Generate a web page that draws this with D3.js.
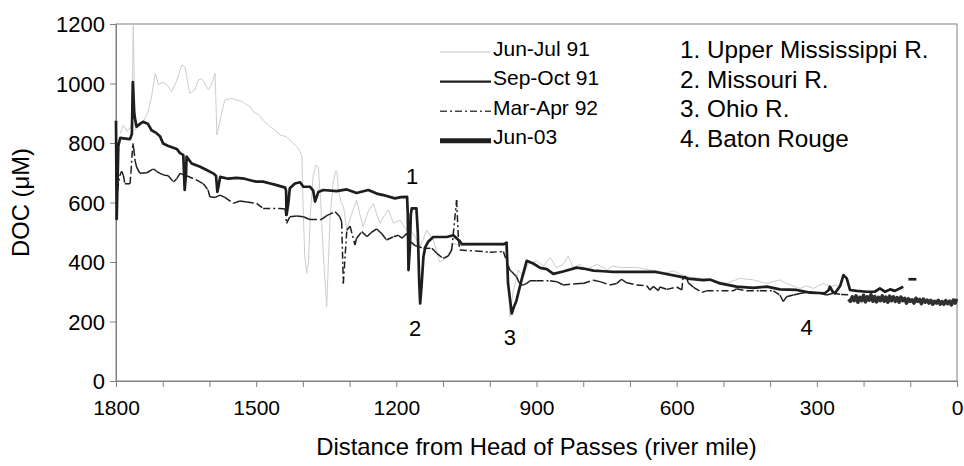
<!DOCTYPE html>
<html><head><meta charset="utf-8">
<script src="https://cdn.jsdelivr.net/npm/d3@7"></script>
<style>
html,body{margin:0;padding:0;background:#fff;}
svg text{font-family:"Liberation Sans",Arial,sans-serif;fill:#000;}
</style></head>
<body><svg id="chart" width="964" height="466"></svg>
<script>
// ---- data: [river mile, DOC µM] ----
const seriesNames = ["Jun-Jul 91", "Sep-Oct 91", "Mar-Apr 92", "Jun-03"];
const siteNotes = ["1. Upper Mississippi R.", "2. Missouri R.", "3. Ohio R.", "4. Baton Rouge"];
const siteMarks = [[1166, 1], [1160, 2], [957, 3], [322, 4]]; // [mile, number]
const siteMarkValues = [662, 150, 120, 155];
const xTicks = [1800, 1500, 1200, 900, 600, 300, 0];
const yTicks = [0, 200, 400, 600, 800, 1000, 1200];

const junJul91 = [
 [1791,832],[1784,860],[1777,840],[1770,850],[1766,870],[1763,1195],[1759,843],[1752,855],[1742,870],
 [1731,905],[1724,955],[1716,1034],[1709,995],[1699,1005],[1688,990],[1681,972],[1670,1010],[1659,1062],
 [1652,1055],[1645,990],[1642,967],[1631,978],[1624,1012],[1617,1017],[1610,1000],[1602,978],[1595,1000],
 [1588,1034],[1584,827],[1574,900],[1567,945],[1552,950],[1542,945],[1531,940],[1520,928],[1513,922],
 [1506,905],[1495,895],[1485,877],[1470,855],[1460,843],[1449,827],[1435,821],[1428,810],[1413,788],
 [1406,771],[1402,754],[1399,560],[1396,420],[1392,362],[1388,400],[1384,560],[1378,690],[1372,725],
 [1367,720],[1362,600],[1356,420],[1349,250],[1345,420],[1342,541],[1336,660],[1330,705],[1327,703],
 [1324,642],[1318,600],[1313,586],[1306,507],[1296,560],[1285,608],[1278,560],[1271,519],[1260,570],
 [1249,597],[1242,560],[1235,530],[1226,555],[1217,575],[1206,530],[1192,541],[1178,507],[1164,496],
 [1149,451],[1135,507],[1121,474],[1107,400],[1092,414],[1078,463],[1064,455],[1000,458],[967,455],
 [962,380],[957,216],[950,300],[939,373],[928,350],[918,393],[900,404],[885,387],[871,415],[857,381],
 [843,392],[832,420],[821,381],[807,392],[793,375],[771,392],[757,381],[750,373],[736,387],[721,381],
 [686,382],[664,375],[643,370],[621,364],[607,370],[579,351],[550,345],[522,340],[493,328],[465,345],
 [436,340],[407,328],[379,340],[365,328],[336,311],[322,320],[308,311],[286,328],[272,317],[254,323]
];

const sepOct91 = [
 [1800,875],[1798.5,545],[1795,790],[1791,817],[1780,815],[1770,813],[1766,830],[1764,1005],[1761,900],
 [1759,880],[1756,855],[1748,865],[1742,871],[1732,865],[1724,843],[1715,835],[1706,823],[1699,798],
 [1688,790],[1670,780],[1663,766],[1656,760],[1653,642],[1650,700],[1649,754],[1638,731],[1620,720],
 [1606,709],[1592,698],[1586,690],[1583,636],[1580,660],[1577,686],[1560,680],[1542,683],[1525,680],
 [1513,675],[1500,670],[1485,670],[1470,664],[1460,660],[1449,655],[1438,650],[1436,640],[1435,558],
 [1431,600],[1428,648],[1417,664],[1406,668],[1399,653],[1385,653],[1378,640],[1374,603],[1367,635],
 [1356,642],[1328,638],[1306,644],[1285,632],[1260,642],[1242,630],[1228,625],[1203,614],[1190,618],
 [1177,619],[1175.5,560],[1174,373],[1171,450],[1169,560],[1167,580],[1157,580],[1154,500],[1151,330],
 [1149,261],[1146,320],[1142,418],[1138,450],[1132,468],[1121,484],[1092,484],[1078,490],[1064,470],
 [1060,460],[971,460],[964,465],[961,330],[953,227],[948,250],[943,270],[932,340],[921,404],[907,395],
 [892,380],[878,376],[864,360],[843,368],[814,381],[800,378],[778,371],[757,369],[736,367],[646,367],
 [636,364],[593,351],[571,343],[543,339],[529,341],[507,328],[472,317],[436,313],[407,317],[379,308],
 [343,306],[315,297],[283,295],[275,305],[272,317],[266,300],[261,295],[250,320],[243,356],[236,345],
 [229,306],[215,303],[193,300],[176,300],[165,311],[154,300],[143,308],[133,303],[115,317]
];
const sepOct91Dash = [[104,342],[87,342]];

const marApr92 = [
 [1799,540],[1797,640],[1792,690],[1788,705],[1784,690],[1781,663],[1770,663],[1768,700],[1764,799],
 [1762,780],[1759,740],[1756,720],[1749,698],[1734,700],[1720,713],[1713,705],[1706,698],[1697,692],
 [1688,690],[1677,669],[1670,680],[1663,698],[1649,690],[1627,675],[1613,663],[1603,642],[1599,619],
 [1588,617],[1577,625],[1567,617],[1549,597],[1535,605],[1520,602],[1499,597],[1485,580],[1449,580],
 [1438,578],[1435,530],[1428,552],[1413,555],[1399,552],[1385,543],[1360,543],[1349,556],[1331,569],
 [1321,552],[1317,535],[1313.5,328],[1306,507],[1299,520],[1288.5,457],[1285,480],[1274,502],[1263,485],
 [1253,500],[1242,511],[1231,495],[1221,474],[1206,485],[1196,490],[1188,480],[1178,496],[1171,470],
 [1160,455],[1142,446],[1124,446],[1114,430],[1100,412],[1089,420],[1081.5,440],[1071,608],[1067,474],
 [1064,440],[1030,437],[1000,433],[971,435],[957,373],[953,367],[942.5,350],[935,323],[928,323],[921,328],
 [914,337],[900,337],[871,337],[857,334],[843,323],[821,326],[807,328],[800,328],[778,339],[764,334],
 [743,323],[728,328],[718,342],[707,330],[686,323],[664,320],[657,306],[650,318],[639,304],[636,316],
 [621,308],[600,316],[589,306],[586,351],[580,351],[575,330],[564,315],[546,298],[536,303],[479,303],
 [472,310],[450,303],[422,303],[393,303],[379,289],[372,267],[365,283],[350,289],[336,294],[315,300],
 [293,295],[279,289],[265,295],[248,291],[232,290]
];

const jun03 = [
 [232,275],[228,268],[224,283],[220,270],[216,286],[212,265],[208,281],[204,270],[200,288],[196,266],
 [192,283],[188,272],[184,290],[180,268],[176,284],[172,266],[168,281],[164,270],[160,286],[156,268],
 [152,282],[148,265],[144,285],[140,270],[136,283],[132,268],[128,280],[124,265],[120,282],[116,270],
 [112,278],[108,262],[104,276],[100,268],[96,273],[92,262],[88,278],[84,268],[80,274],[76,260],[72,275],
 [68,265],[64,272],[60,262],[56,271],[52,258],[48,268],[44,262],[40,271],[36,258],[32,267],[28,258],
 [24,270],[20,260],[16,268],[12,256],[8,272],[4,262],[1,276]
];

// ---- layout ----
const svg = d3.select("#chart");
const L = 116, R = 957, T = 24, B = 381;
const x = d3.scaleLinear().domain([1800, 0]).range([L, R]);
const y = d3.scaleLinear().domain([0, 1200]).range([B, T]);
const FONT = 21;
const AXIS = "#808080";

// plot frame
svg.append("rect").attr("x", L).attr("y", T).attr("width", R - L).attr("height", B - T)
  .attr("fill", "none").attr("stroke", AXIS).attr("stroke-width", 1);

// axes
const xAxis = d3.axisBottom(x).tickValues(d3.range(0, 1801, 100))
  .tickFormat(d => xTicks.includes(d) ? String(d) : "").tickSize(6).tickSizeOuter(0);
const gx = svg.append("g").attr("transform", `translate(0,${B})`).call(xAxis);
gx.select(".domain").attr("stroke", AXIS);
gx.selectAll(".tick line").attr("stroke", AXIS);
gx.selectAll(".tick text").attr("font-size", FONT).attr("font-family", "Liberation Sans, Arial, sans-serif")
  .attr("fill", "#000").attr("dy", "0").attr("y", 34);

const yAxis = d3.axisLeft(y).tickValues(yTicks).tickFormat(d => String(d))
  .tickSize(6).tickSizeOuter(0).tickPadding(5);
const gy = svg.append("g").attr("transform", `translate(${L},0)`).call(yAxis);
gy.select(".domain").attr("stroke", AXIS);
gy.selectAll(".tick line").attr("stroke", AXIS);
gy.selectAll(".tick text").attr("font-size", 22).attr("font-family", "Liberation Sans, Arial, sans-serif")
  .attr("fill", "#000").attr("dy", "0.36em");

// axis titles
svg.append("text").attr("x", (L + R) / 2).attr("y", 455).attr("text-anchor", "middle")
  .attr("font-size", 23.8).text("Distance from Head of Passes (river mile)");
svg.append("text").attr("transform", `translate(29,${(T + B) / 2}) rotate(-90)`)
  .attr("text-anchor", "middle").attr("font-size", 23.8).text("DOC (\u03BCM)");

// series
const line = d3.line().x(d => x(d[0])).y(d => y(d[1]));

svg.append("path").datum(junJul91).attr("d", line).attr("fill", "none")
  .attr("stroke", "#cdcdcd").attr("stroke-width", 1).attr("stroke-linejoin", "round");

// Mar-Apr 92: dash pattern restarts on every segment (as in the original)
svg.append("g").selectAll("line").data(d3.pairs(marApr92)).join("line")
  .attr("x1", d => x(d[0][0])).attr("y1", d => y(d[0][1]))
  .attr("x2", d => x(d[1][0])).attr("y2", d => y(d[1][1]))
  .attr("stroke", "#1e1e1e").attr("stroke-width", 1.5)
  .attr("stroke-dasharray", "7,3,2,3").attr("stroke-linecap", "butt");

[sepOct91, sepOct91Dash].forEach(s => {
  svg.append("path").datum(s).attr("d", line).attr("fill", "none")
    .attr("stroke", "#1e1e1e").attr("stroke-width", 2.7).attr("stroke-linejoin", "round");
});

svg.append("path").datum(jun03).attr("d", line).attr("fill", "none")
  .attr("stroke", "#303030").attr("stroke-width", 3.6).attr("stroke-linejoin", "round");

// site number marks
svg.append("g").selectAll("text").data(siteMarks).join("text")
  .attr("x", (d) => x(d[0]))
  .attr("y", (d, i) => y(siteMarkValues[i]))
  .attr("text-anchor", "middle").attr("font-size", 22).text(d => String(d[1]));

// legend
const legendRows = [
  {stroke: "#c8c8c8", w: 1, dash: null},
  {stroke: "#1e1e1e", w: 2.4, dash: null},
  {stroke: "#444", w: 1.5, dash: "7,3,2,3"},
  {stroke: "#1e1e1e", w: 5, dash: null}
];
const lg = svg.append("g");
seriesNames.forEach((name, i) => {
  const yy = 48 + i * 29.6;
  const st = legendRows[i];
  lg.append("line").attr("x1", 440).attr("x2", 491).attr("y1", yy + 4).attr("y2", yy + 4)
    .attr("stroke", st.stroke).attr("stroke-width", st.w).attr("stroke-dasharray", st.dash);
  lg.append("text").attr("x", 493).attr("y", yy).attr("dy", "0.36em")
    .attr("font-size", FONT).text(name);
});
siteNotes.forEach((t, i) => {
  lg.append("text").attr("x", 680).attr("y", 49 + i * 29.8).attr("dy", "0.36em")
    .attr("font-size", 24.3).text(t);
});
</script></body></html>
